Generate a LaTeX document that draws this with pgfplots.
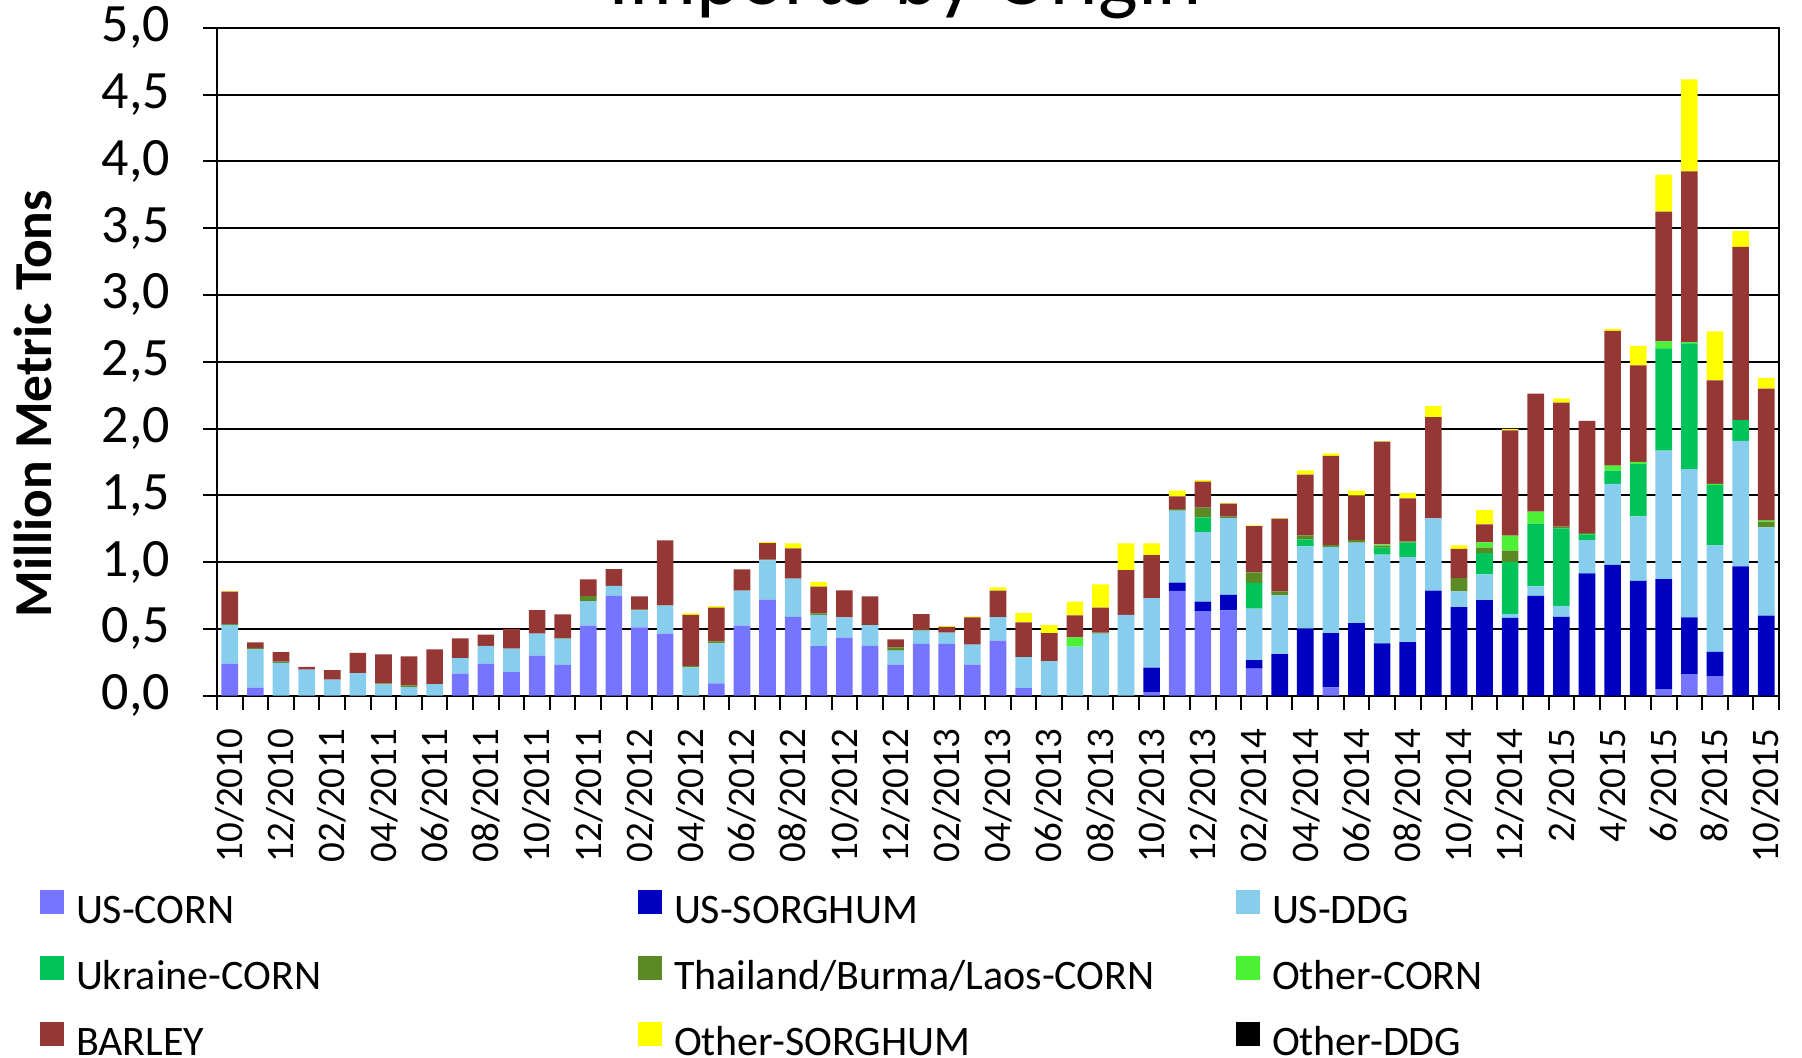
\documentclass[border=0pt]{standalone}
\usepackage{pgfplots}
\pgfplotsset{compat=1.18}
\usepackage{pgfplotstable}
\usepackage{fontspec}
\setmainfont{Carlito}

\definecolor{uscorn}{RGB}{117,117,255}
\definecolor{ussorg}{RGB}{0,0,192}
\definecolor{usddg}{RGB}{135,206,238}
\definecolor{ukrcorn}{RGB}{0,196,90}
\definecolor{thaicorn}{RGB}{91,138,36}
\definecolor{othcorn}{RGB}{76,240,52}
\definecolor{barley}{RGB}{149,55,53}
\definecolor{othsorg}{RGB}{255,255,0}
\definecolor{othddg}{RGB}{0,0,0}

% monthly imports, million metric tons (m = month index from 10/2010)
\pgfplotstableread{
m corn sorg ddg ukr thai ocorn barley osorg oddg
0 0.24 0 0.29 0 0.005 0 0.245 0.005 0
1 0.06 0 0.287 0 0.012 0 0.041 0 0
2 0 0 0.245 0 0.01 0 0.072 0 0
3 0 0 0.195 0 0 0 0.02 0 0
4 0 0 0.12 0 0 0 0.072 0 0
5 0 0 0.17 0 0 0 0.15 0 0
6 0 0 0.085 0 0.008 0 0.217 0 0
7 0 0 0.065 0 0.012 0 0.217 0 0
8 0 0 0.087 0 0 0 0.26 0 0
9 0.165 0 0.117 0 0 0 0.148 0 0
10 0.24 0 0.134 0 0 0 0.083 0 0
11 0.177 0 0.175 0 0 0 0.148 0 0
12 0.30 0 0.164 0 0 0 0.177 0 0
13 0.232 0 0.195 0 0.005 0 0.177 0 0
14 0.524 0 0.185 0 0.037 0 0.125 0 0
15 0.749 0 0.074 0 0 0 0.125 0 0
16 0.511 0 0.128 0 0.005 0 0.10 0 0
17 0.464 0 0.21 0 0.003 0 0.486 0 0
18 0 0 0.212 0 0.012 0 0.382 0.01 0
19 0.092 0 0.30 0 0.015 0 0.252 0.012 0
20 0.524 0 0.262 0 0 0 0.16 0 0
21 0.719 0 0.294 0 0.005 0 0.125 0.007 0
22 0.591 0 0.285 0 0 0 0.227 0.037 0
23 0.372 0 0.234 0 0.01 0 0.20 0.037 0
24 0.434 0 0.152 0 0 0 0.202 0 0
25 0.374 0 0.155 0 0 0 0.215 0 0
26 0.232 0 0.105 0 0.025 0 0.06 0 0
27 0.389 0 0.098 0 0.005 0 0.119 0 0
28 0.389 0 0.083 0 0 0 0.044 0.005 0
29 0.232 0 0.15 0 0 0 0.204 0.008 0
30 0.412 0 0.177 0 0 0 0.197 0.025 0
31 0.057 0 0.232 0 0 0 0.26 0.07 0
32 0 0 0.259 0 0 0 0.21 0.06 0
33 0 0 0.367 0 0 0.07 0.164 0.103 0
34 0 0 0.464 0 0.008 0 0.187 0.174 0
35 0 0 0.606 0 0 0 0.335 0.199 0
36 0.027 0.183 0.521 0 0 0 0.322 0.087 0
37 0.784 0.062 0.539 0 0.012 0 0.095 0.043 0
38 0.634 0.07 0.521 0.11 0.072 0 0.195 0.012 0
39 0.639 0.115 0.576 0 0.01 0 0.097 0.006 0
40 0.202 0.065 0.385 0.192 0.079 0 0.347 0.005 0
41 0 0.312 0.439 0 0.03 0 0.544 0.005 0
42 0 0.502 0.616 0.052 0.03 0 0.454 0.033 0
43 0.063 0.406 0.646 0 0.013 0 0.668 0.018 0
44 0 0.544 0.601 0 0.02 0 0.332 0.038 0
45 0 0.392 0.664 0.052 0.015 0.01 0.768 0.005 0
46 0 0.402 0.636 0.107 0.01 0 0.322 0.04 0
47 0 0.786 0.541 0 0 0 0.759 0.082 0
48 0 0.664 0.117 0 0.10 0 0.219 0.025 0
49 0 0.716 0.192 0.16 0.04 0.04 0.134 0.108 0
50 0 0.583 0.028 0.391 0.084 0.112 0.788 0.012 0
51 0 0.748 0.071 0.469 0 0.09 0.884 0 0
52 0 0.59 0.083 0.58 0.012 0 0.929 0.031 0
53 0 0.915 0.249 0.043 0.01 0 0.84 0 0
54 0 0.98 0.605 0.10 0 0.037 1.008 0.016 0
55 0 0.859 0.484 0.391 0 0.016 0.723 0.146 0
56 0.05 0.822 0.962 0.766 0 0.053 0.971 0.276 0
57 0.161 0.425 1.111 0.94 0 0.01 1.278 0.689 0
58 0.146 0.183 0.797 0.45 0 0.01 0.775 0.366 0
59 0 0.968 0.94 0.155 0 0 1.297 0.118 0
60 0 0.599 0.661 0 0.04 0.01 0.989 0.081 0
}\imports

\pgfplotsset{
  seg/.style={fill=#1, draw=none,
    legend image code/.code={\fill[#1] (0pt,0pt) rectangle (12pt,12pt);}},
}

\begin{document}
\begin{tikzpicture}
\path[use as bounding box] (0,0) rectangle (901pt,-528.5pt);
\node[anchor=base, font=\fontsize{42}{48}\selectfont] at (452.5pt,-2pt) {Imports by Origin};
\node[rotate=90, font=\fontsize{26.7}{30}\selectfont\bfseries] at (16.5pt,-202pt) {Million Metric Tons};
\begin{axis}[
    at={(108.5pt,-347.85pt)}, anchor=south west,
    scale only axis, width=781pt, height=334pt,
    ybar stacked, bar width=0.65,
    xmin=-0.5, xmax=60.5, ymin=0, ymax=5,
    ytick={0,0.5,1,1.5,2,2.5,3,3.5,4,4.5,5},
    yticklabel shift=13pt,
    yticklabel style={font=\fontsize{27}{32}\selectfont,
        /pgf/number format/.cd, fixed, fixed zerofill, precision=1, use comma, assume math mode=true},
    xtick={-0.5,0.5,...,60.5}, xticklabels={},
    xticklabel shift=13pt,
    extra x ticks={0,2,...,60},
    extra x tick labels={10/2010,12/2010,02/2011,04/2011,06/2011,08/2011,10/2011,12/2011,02/2012,04/2012,06/2012,08/2012,10/2012,12/2012,02/2013,04/2013,06/2013,08/2013,10/2013,12/2013,02/2014,04/2014,06/2014,08/2014,10/2014,12/2014,2/2015,4/2015,6/2015,8/2015,10/2015},
    extra x tick style={major tick length=0pt,
        xticklabel style={rotate=90, anchor=east, font=\fontsize{19.5}{23}\selectfont}},
    tick align=outside, xtick pos=bottom, ytick pos=left,
    major tick length=7pt,
    tick style={black, line width=1pt},
    ymajorgrids, major grid style={black, line width=1pt},
    axis line style={black, line width=1pt},
    legend columns=3,
    legend cell align=left,
    legend style={at={(axis description cs:-0.1133,-0.2905)}, anchor=north west,
        draw=none, fill=none, inner sep=0pt, outer sep=0pt,
        font=\fontsize{21}{25}\selectfont, row sep=11pt,
        nodes={text width=281pt, inner sep=0pt, text height=15pt, text depth=5pt, align=left},
        /tikz/every odd column/.append style={column sep=6pt}},
]
\addplot[seg=uscorn] table[x=m, y=corn] {\imports};
\addplot[seg=ussorg] table[x=m, y=sorg] {\imports};
\addplot[seg=usddg] table[x=m, y=ddg] {\imports};
\addplot[seg=ukrcorn] table[x=m, y=ukr] {\imports};
\addplot[seg=thaicorn] table[x=m, y=thai] {\imports};
\addplot[seg=othcorn] table[x=m, y=ocorn] {\imports};
\addplot[seg=barley] table[x=m, y=barley] {\imports};
\addplot[seg=othsorg] table[x=m, y=osorg] {\imports};
\addplot[seg=othddg] table[x=m, y=oddg] {\imports};
\legend{US-CORN, US-SORGHUM, US-DDG, Ukraine-CORN, Thailand/Burma/Laos-CORN, Other-CORN, BARLEY, Other-SORGHUM, Other-DDG}
\end{axis}
\end{tikzpicture}
\end{document}
